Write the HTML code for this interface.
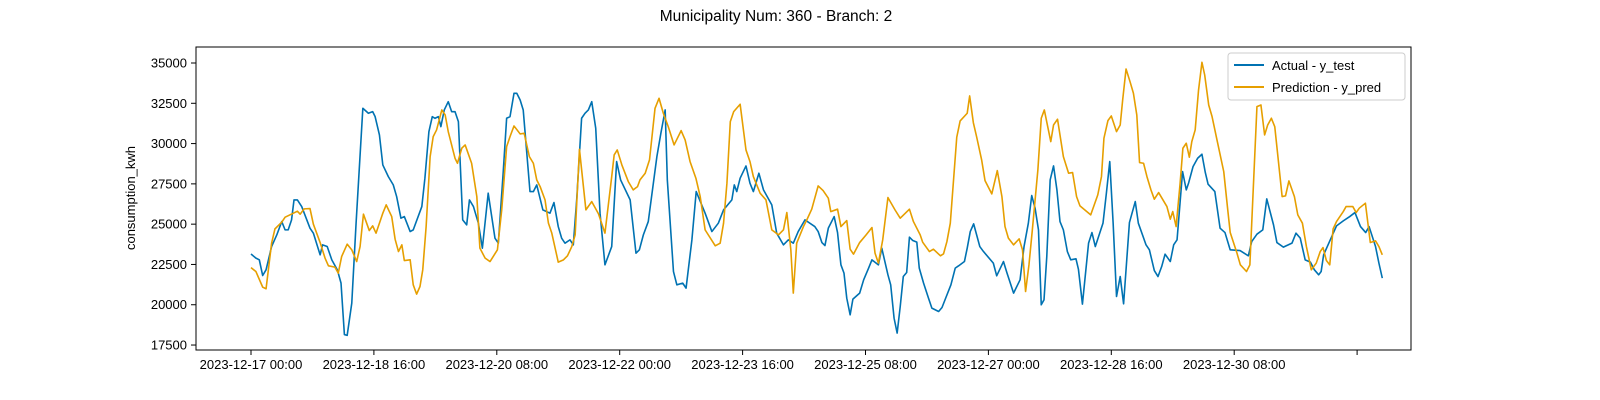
<!DOCTYPE html>
<html><head><meta charset="utf-8">
<style>
html,body{margin:0;padding:0;background:#fff;width:1600px;height:400px;overflow:hidden;}
svg{display:block;position:absolute;left:0;top:0;font-family:"Liberation Sans","DejaVu Sans",sans-serif;}
</style></head>
<body>
<svg id="chart" width="1600" height="400" viewBox="0 0 1600 400" xmlns="http://www.w3.org/2000/svg">
<rect x="0" y="0" width="1600" height="400" fill="#fff"/>
<text x="776" y="21" font-size="15.5" text-anchor="middle" fill="#000">Municipality Num: 360 - Branch: 2</text>
<g id="yaxis"></g>
<g id="xaxis"></g>
<g id="series"></g>
<rect x="196" y="47" width="1215" height="303" fill="none" stroke="#000" stroke-width="1"/>
<text transform="translate(135,198) rotate(-90)" font-size="13" text-anchor="middle" fill="#000">consumption_kwh</text>
<g>
<rect x="1228" y="53" width="177" height="47" rx="3" fill="#fff" fill-opacity="0.8" stroke="#ccc"/>
<line x1="1234" y1="65" x2="1264" y2="65" stroke="#0072b2" stroke-width="2"/>
<text x="1272" y="70" font-size="13" fill="#000">Actual - y_test</text>
<line x1="1234" y1="87" x2="1264" y2="87" stroke="#e69f00" stroke-width="2"/>
<text x="1272" y="92" font-size="13" fill="#000">Prediction - y_pred</text>
</g>
</svg>
<script>
const yTicks = [17500,20000,22500,25000,27500,30000,32500,35000];
const xTickHours = [0,40,80,120,160,200,240,280,320,360];
const xTickLabels = ["2023-12-17 00:00","2023-12-18 16:00","2023-12-20 08:00","2023-12-22 00:00","2023-12-23 16:00","2023-12-25 08:00","2023-12-27 00:00","2023-12-28 16:00","2023-12-30 08:00",""];

const actualHours = [0,1.6,2.7,3.8,4.9,6.7,8.4,10,11.1,12.1,13.2,14,15.1,16.5,19.2,20.3,22.5,23.3,24.8,26.3,28.1,29.3,30.4,31.3,32.8,34.2,36.4,38.2,39.6,40.4,41.8,42.9,44.7,46.3,47.4,48.8,49.9,51.8,52.8,55.6,56.6,57.9,59,59.9,61,61.8,62.9,64.2,65.3,66.4,67.5,68.9,70.2,71.1,72.4,74,75.3,77.2,79.4,80.5,82.1,83.2,84.3,85.6,86.5,87.6,88.6,90.8,91.9,93,95,97.3,98.6,100,101.1,102.2,103.8,104.9,106,107.6,108.7,109.8,110.9,112.2,113.6,115.2,117.4,119,120.3,123.4,125.3,126.4,127.7,129.3,132.1,133.4,134.8,135.5,137.5,138.6,140.5,141.6,143.5,144.9,147.8,150,152.1,153.8,156.5,157.3,158.1,159.2,161.1,162.4,163.5,165.3,166.8,169.5,171.1,173.3,174.9,176.5,178.1,180.3,183.5,184.6,185.8,186.8,187.9,189.8,190.9,192,193,193.9,195,195.9,198.1,199.4,201,202.1,204.2,205.3,207.3,208.2,209.3,210.3,211.3,212.3,213.4,214.3,215.4,216.7,217.5,218.9,220.5,221.6,223.8,224.9,226.3,227.8,229.2,230.3,232.2,233.1,234.1,235.2,237.2,238.4,241.6,242.7,244.9,246,248.2,250.3,251.6,253,254.1,255.2,256.3,257.2,258.1,259,260.1,261.2,262.3,263.3,264.4,265.7,266.8,268.5,269.3,270.6,272.6,273.7,274.8,277.3,278.4,279.5,280.6,281.7,282.9,284,285.9,287.8,288.8,291.3,292.4,294,295.2,296.4,297.5,299.2,300.3,301.4,303.2,304.4,305.2,306.6,308.1,309.5,310.6,311.5,313.7,315.4,317,318.7,321.9,324.6,325.7,327.4,329.3,330.6,332.8,333.9,336,338.8,340.1,341.5,343.1,344.8,346.1,347.5,348.3,349.1,352,353.3,355.5,357.6,359.3,361.1,362.8,363.9,366,367.1,368.2];
const actualValues = [23150,22891,22786,21813,22166,23611,24336,25161,24646,24646,25266,26506,26506,26091,24751,24441,23096,23716,23611,22786,22166,21341,18150,18100,20101,25061,32191,31881,31981,31671,30536,28676,27951,27436,26711,25371,25471,24541,24646,26091,27851,30741,31671,31571,31671,31051,32086,32601,31981,31981,31361,25266,24956,26506,26091,25061,23511,26921,24131,23821,28261,31571,31671,33121,33121,32706,32086,27021,27021,27436,25886,25681,26341,24851,24131,23821,24026,23716,26506,31571,31881,32086,32601,30951,25681,22476,23611,28881,27746,26506,23201,23406,24336,25161,29191,30641,32086,27746,22061,21236,21341,21031,24026,27021,25681,24541,25061,25886,26506,27436,27021,27851,28614,27541,27021,28161,27126,26196,24441,23716,24026,23821,24541,25266,24851,24541,23859,23673,24751,25471,24479,22476,21961,20411,19376,20349,20721,21546,22271,22786,22476,23511,21856,21236,19171,18241,19889,21751,21999,24193,23983,23883,22271,21341,20411,19790,19581,19830,20511,21236,22271,22414,22681,23511,24541,25018,23611,23301,22581,21794,22681,21999,20721,21546,23611,25061,26773,25991,24646,19996,20306,22991,27746,28614,27126,25161,24646,23301,22786,22848,22209,20039,23821,24479,23611,25061,26921,28881,25061,20511,21751,20058,25099,26401,25061,23716,23406,22123,21751,22371,23139,22681,23716,24026,28261,27126,27579,28571,29091,29339,28199,27479,27021,24751,24479,23406,23363,23034,23921,24379,24646,26568,24956,23859,23573,23821,24441,24131,22786,22643,22166,21856,22061,23096,24336,24894,25204,25471,25719,24851,24479,24851,23611,22581,21651];

const predHours = [0,1.6,3.8,4.9,6.7,7.8,10,11.1,13.8,15.1,16,17.3,19.2,20.3,22.5,24.1,25.2,27.3,28.4,29.5,31.3,32.8,34.4,35.5,36.6,38.5,39.6,40.7,42.9,44,45.8,46.9,48,49.1,49.9,51.8,52.8,53.9,55,55.9,57,58.3,59.3,60.4,62.1,63.2,64.2,66.4,67.2,68.6,69.7,71.8,73.5,74.5,76.2,77.8,80.2,81.6,83.2,84.3,85.6,87.6,88.9,90.6,91.9,93,94.1,95.7,96.8,97.9,100,101.7,103,104.4,105.5,106.9,109,110.9,113.1,115.2,117.4,118.2,119.2,120.7,122.8,124.4,125.8,126.6,128.3,129.7,131.5,132.8,134.2,135.8,137.7,140,141.3,142.9,144.8,146.2,147.8,151.1,152.7,153.8,154.9,156,157.1,159.2,161.1,162.4,163.5,165.7,167.6,169.5,171.7,173.3,174.4,175.7,176.5,177.6,179.8,180.9,182.5,184.6,186.2,187.9,188.7,190.9,192,193.9,195,196.1,198.1,200.2,202.1,203.1,204.2,205.6,207.3,209.6,211.3,214.3,215.6,217.8,218.6,220.8,222.1,224.4,225.4,226.5,227.6,229.7,230.8,233.1,233.9,235.1,236.2,237.8,238.9,241.1,242.9,244.4,245.4,246.5,248.2,250,251.1,252.1,253.2,254.3,256.1,257.2,258.2,260.3,261.2,262.5,264.4,266.1,267.4,268.7,269.8,273.3,275.6,276.8,277.6,278.9,280,281.7,282.9,283.7,284.8,286.1,287.2,288.3,289.2,290.5,291.6,292.9,294,295.4,298.1,299.2,300,301.1,302.4,303.3,304.4,305.4,306.2,307.3,308.4,309.5,310.4,311.7,312.8,314.4,316.6,317.9,318.7,320.9,322,324,325.1,325.8,327.4,328.7,329.9,330.9,332.1,333.2,335.6,336.7,337.8,339.6,340.7,342.2,343.5,345.1,346.7,348,348.9,350,351.1,352.2,353.3,355.5,356.4,358.6,359.7,360.7,362.7,364.3,366,367.1,368.2];
const predValues = [22300,22061,21093,20988,23821,24708,25123,25433,25681,25806,25619,25948,25967,24999,23859,22891,22414,22333,21961,22991,23759,23406,22681,23611,25619,24603,24894,24441,25681,26196,25471,24069,23301,23716,22743,22786,21236,20659,21131,22166,24851,29191,30431,30846,32086,31776,30741,29091,28781,29711,29916,28781,26711,23511,22891,22681,23406,25886,29811,30431,31094,30598,30641,29191,28781,27746,27331,26506,25061,24441,22643,22786,23034,23611,24336,29649,25886,26401,25638,24441,27951,29296,29606,28676,27641,27126,27331,27746,28161,28986,32191,32811,31881,31051,29916,30803,30226,28881,27851,26711,24646,23654,23821,25061,27541,31361,31981,32439,29606,28881,27951,26921,26506,24646,24336,24646,25719,23406,20721,23821,24851,25266,25929,27374,27083,26611,25781,25929,24851,25223,23449,23139,23859,24336,24789,23201,22581,24026,26649,25886,25371,25929,25161,24336,23883,23301,23449,23034,23158,23921,25061,30393,31404,31881,32954,31299,30393,28986,27703,26878,28323,26711,24851,24131,23716,24088,23406,20821,22476,24646,28366,31571,32086,30121,31156,31509,29191,28161,28199,26711,26134,25576,26816,27951,30331,31423,31714,30741,31156,32706,34628,33841,33121,31776,28819,28781,27951,27126,26549,26959,26091,25309,25781,24851,27541,29711,30021,29153,30121,30846,33326,35043,34256,32396,31671,30226,28261,25886,24479,23201,22476,22061,22476,25471,32291,32396,30536,31156,31571,31051,26711,26754,27684,26711,25576,25061,23611,22166,22581,23301,23549,22743,22476,24708,25161,25781,26091,26091,25719,25991,26301,23859,23964,23611,23096];

const X0 = 251, PX_PER_HOUR = 3.0725;
const Y_TOP = 63, V_TOP = 35000, PX_PER_2500 = 40.29;
function xScale(h){ return X0 + h * PX_PER_HOUR; }
function yScale(v){ return Y_TOP + (V_TOP - v) / 2500 * PX_PER_2500; }
const NS = "http://www.w3.org/2000/svg";

const yaxis = document.getElementById('yaxis');
yTicks.forEach(function(v){
  const y = yScale(v);
  const t = document.createElementNS(NS,'line');
  t.setAttribute('x1',191); t.setAttribute('x2',196);
  t.setAttribute('y1',y); t.setAttribute('y2',y);
  t.setAttribute('stroke','#000');
  
  
  yaxis.appendChild(t);
  const l = document.createElementNS(NS,'text');
  l.setAttribute('x',187); l.setAttribute('y',y+4.5);
  l.setAttribute('font-size','13'); l.setAttribute('text-anchor','end');
  l.textContent = v;
  
  
  yaxis.appendChild(l);
});

const xaxis = document.getElementById('xaxis');
xTickHours.forEach(function(h,i){
  const x = xScale(h);
  const t = document.createElementNS(NS,'line');
  t.setAttribute('x1',x); t.setAttribute('x2',x);
  t.setAttribute('y1',350); t.setAttribute('y2',355);
  t.setAttribute('stroke','#000');
  
  
  xaxis.appendChild(t);
  if (xTickLabels[i]) {
    const l = document.createElementNS(NS,'text');
    l.setAttribute('x',x); l.setAttribute('y',369);
    l.setAttribute('font-size','13'); l.setAttribute('text-anchor','middle');
    l.textContent = xTickLabels[i];
    
    
    xaxis.appendChild(l);
  }
});

function drawLine(hours, values, color, name){
  let d = '';
  for (let i=0;i<hours.length;i++){
    d += (i?'L':'M') + xScale(hours[i]).toFixed(2) + ',' + yScale(values[i]).toFixed(2);
  }
  const p = document.createElementNS(NS,'path');
  p.setAttribute('d', d);
  p.setAttribute('fill','none');
  p.setAttribute('stroke', color);
  p.setAttribute('stroke-width','1.6');
  p.setAttribute('stroke-linejoin','round');
  
  
  document.getElementById('series').appendChild(p);
}
drawLine(actualHours, actualValues, '#0072b2', 'actual-line');
drawLine(predHours, predValues, '#e69f00', 'prediction-line');
</script>
</body></html>
